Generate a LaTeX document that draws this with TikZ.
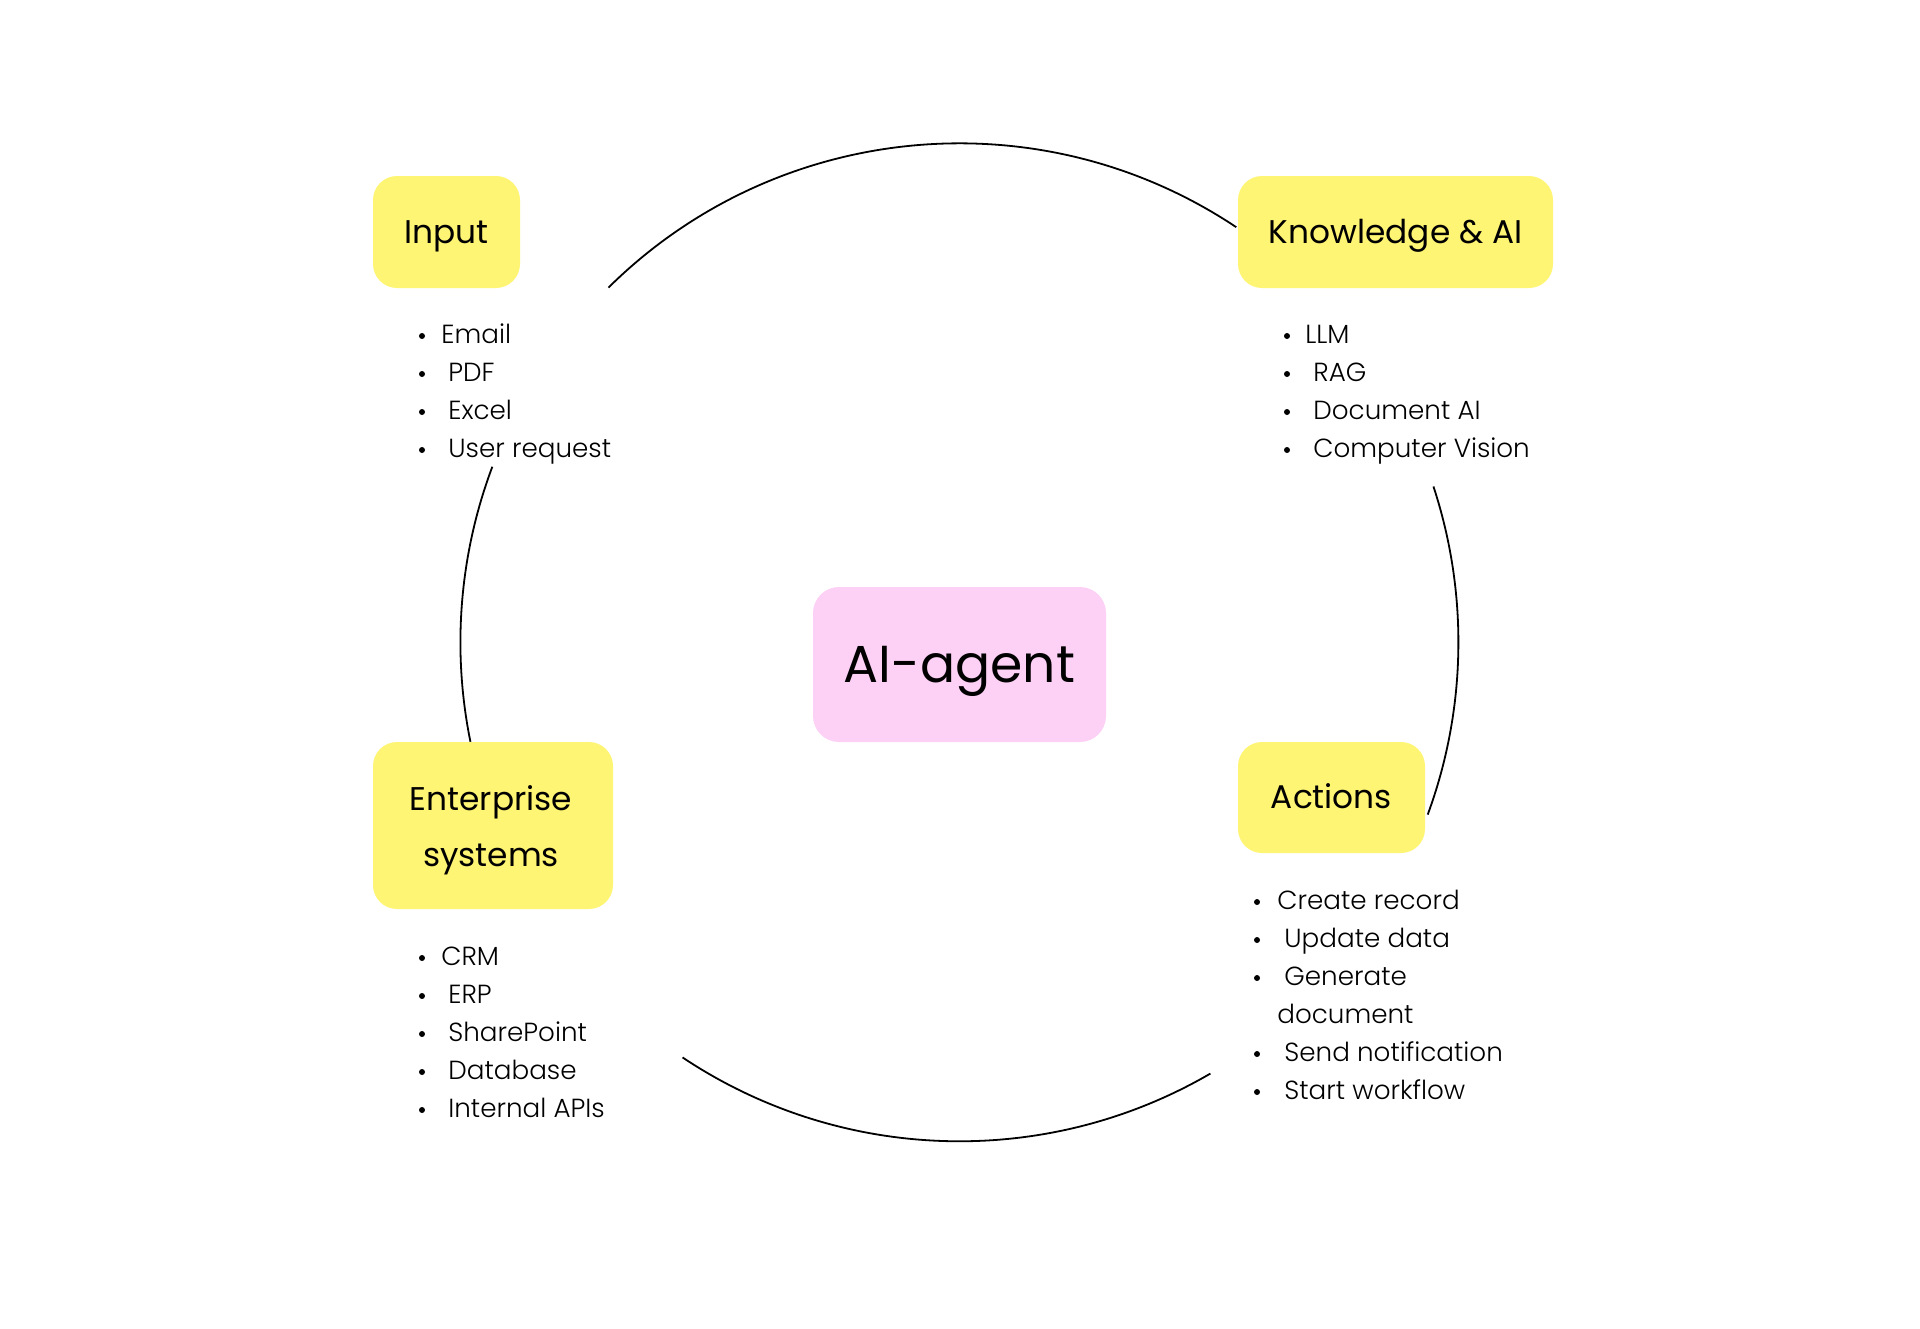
\documentclass[tikz,border=0pt]{standalone}
\usepackage{fontspec}
\setmainfont{Poppins}
\newfontfamily\lightfont{Poppins Light}
\definecolor{boxyellow}{HTML}{FFF574}
\definecolor{boxpink}{HTML}{FDD0F5}
\tikzset{
  card/.style={fill=boxyellow, draw=none, rounded corners=12pt, inner sep=0pt,
    text height=11.4pt, text depth=0pt, font=\fontsize{16.4}{28}\selectfont},
  cardtext/.style={inner sep=0pt, font=\fontsize{16.4}{28}\selectfont},
  agent/.style={fill=boxpink, draw=none, rounded corners=13pt, inner sep=0pt,
    text height=18.2pt, text depth=0pt, font=\fontsize{26}{30}\selectfont},
  listitem/.style={anchor=base west, inner sep=0pt, font=\lightfont\fontsize{13.1}{19}\selectfont},
  ring/.style={draw=black, line width=0.9pt},
  dot/.style={fill=black},
}
\begin{document}
\begin{tikzpicture}[x=0.5pt,y=-0.5pt]
\useasboundingbox (0,0) rectangle (1920,1328);
% boxes
\node[card, minimum width=73.5pt, minimum height=56pt] (input) at (446.5,232) {Input};
\node[card, minimum width=157.5pt, minimum height=56pt] (know) at (1395.5,232) {Knowledge \& AI};
\node[card, text height=, minimum width=120pt, minimum height=83.5pt] (ent) at (493,825.5) {};
\node[cardtext, anchor=base] (entlabel) at (491,810) {\begin{tabular}[t]{@{}c@{}}Enterprise\\systems\end{tabular}};
\node[card, minimum width=93.5pt, minimum height=55.5pt] (act) at (1331.5,797.5) {Actions};
\node[agent, minimum width=146.5pt, minimum height=77.5pt] (agent) at (959.5,664.5) {AI-agent};
% ring arcs
\coordinate (c) at (959.4,642.3);
\draw[ring] ([shift={(134.7:249.5pt)}]c) arc[start angle=134.7, end angle=56.3, radius=249.5pt];
\draw[ring] ([shift={(18.2:249.5pt)}]c) arc[start angle=18.2, end angle=-20.2, radius=249.5pt];
\draw[ring] ([shift={(-59.8:249.5pt)}]c) arc[start angle=-59.8, end angle=-123.7, radius=249.5pt];
\draw[ring] ([shift={(191.5:249.5pt)}]c) arc[start angle=191.5, end angle=159.4, radius=249.5pt];
% input list
\node[listitem] (in1) at (441,343) {Email};
\node[listitem] (in2) at (448,381) {PDF};
\node[listitem] (in3) at (448,419) {Excel};
\node[listitem] (in4) at (448,457) {User request};
\foreach \yy in {343,381,419,457} \fill[dot] (422,\yy-7) circle (1.5pt);
% knowledge list
\node[listitem] (kn1) at (1305,343) {LLM};
\node[listitem] (kn2) at (1313,381) {RAG};
\node[listitem] (kn3) at (1313,419) {Document AI};
\node[listitem] (kn4) at (1313,457) {Computer Vision};
\foreach \yy in {343,381,419,457} \fill[dot] (1287,\yy-7) circle (1.5pt);
% enterprise list
\node[listitem] (en1) at (441,965) {CRM};
\node[listitem] (en2) at (448,1003) {ERP};
\node[listitem] (en3) at (448,1041) {SharePoint};
\node[listitem] (en4) at (448,1079) {Database};
\node[listitem] (en5) at (448,1117) {Internal APIs};
\foreach \yy in {965,1003,1041,1079,1117} \fill[dot] (422,\yy-7) circle (1.5pt);
% actions list
\node[listitem] (ac1) at (1277,909) {Create record};
\node[listitem] (ac2) at (1284,947) {Update data};
\node[listitem] (ac3) at (1284,985) {Generate};
\node[listitem] (ac3b) at (1277,1023) {document};
\node[listitem] (ac4) at (1284,1061) {Send notification};
\node[listitem] (ac5) at (1284,1099) {Start workflow};
\foreach \yy in {909,947,985,1061,1099} \fill[dot] (1257,\yy-7) circle (1.5pt);
\end{tikzpicture}
\end{document}
